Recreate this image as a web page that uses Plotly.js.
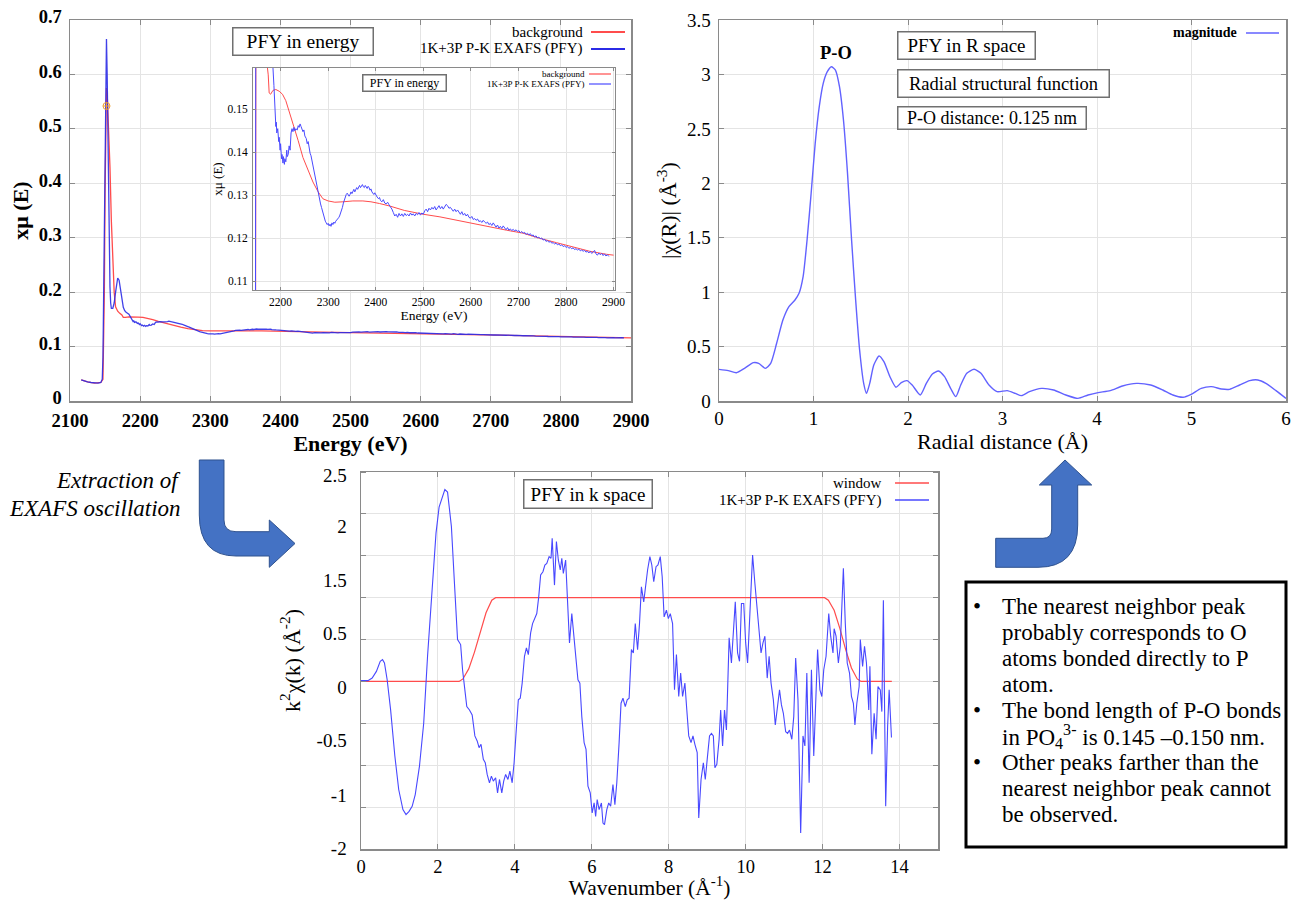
<!DOCTYPE html>
<html><head><meta charset="utf-8">
<script src="https://cdn.plot.ly/plotly-3.0.1.min.js"></script>
<style>html,body{margin:0;padding:0;background:#fff}#chart{width:1293px;height:900px}</style>
</head><body><div id="chart"></div>
<script>
// ---------------- DATA ----------------
// Energy space (eV) – measured PFY spectrum
const dataE = [2116,2120,2125,2130,2135,2140,2144,2146,2147,2148,2149,2150,2151,2152,2153,2154,2155,2156,2157,2158,2159,2161,2163,2165,2167,2168,2170,2172,2174,2176,2178,2180,2184,2186,2187,2188,2189,2190,2191,2192,2194,2196,2197,2199,2200,2202,2203,2205,2206,2208,2209,2211,2213,2214,2216,2218,2220,2222,2224,2226,2228,2230,2232,2235,2237,2239,2241,2243,2245,2247,2249,2251,2254,2256,2258,2260,2262,2264,2266,2268,2270,2272,2274,2276,2278,2280,2282,2284,2286,2288,2290,2292,2294,2296,2298,2300,2302,2304,2306,2308,2310,2312,2314,2316,2318,2320,2322,2324,2326,2328,2330,2332,2334,2336,2338,2340,2342,2344,2346,2348,2350,2352,2354,2356,2358,2360,2362,2364,2366,2368,2370,2372,2374,2376,2378,2380,2382,2384,2386,2388,2390,2392,2394,2396,2398,2400,2403,2406,2408,2410,2413,2416,2419,2422,2425,2428,2431,2434,2437,2440,2443,2446,2449,2452,2455,2458,2461,2464,2467,2470,2473,2476,2479,2482,2485,2488,2491,2494,2497,2500,2503,2506,2509,2512,2515,2518,2521,2524,2527,2530,2533,2536,2539,2542,2545,2548,2551,2554,2557,2560,2563,2566,2569,2572,2575,2578,2581,2584,2587,2590,2593,2596,2599,2602,2605,2608,2611,2614,2617,2620,2623,2626,2629,2632,2635,2638,2641,2644,2647,2650,2653,2656,2659,2662,2665,2668,2671,2674,2677,2680,2683,2686,2689,2692,2695,2698,2701,2704,2707,2710,2713,2716,2719,2722,2725,2728,2731,2734,2737,2740,2743,2746,2749,2752,2755,2758,2761,2764,2767,2770,2773,2776,2779,2782,2785,2788,2791,2794,2797,2800,2803,2806,2809,2812,2815,2818,2821,2824,2827,2830,2833,2836,2839,2842,2845,2848,2851,2854,2857,2860,2863,2866,2869,2872,2875,2878,2881,2884,2887,2890];
const dataMu = [0.039,0.037,0.035,0.034,0.033,0.033,0.034,0.040,0.080,0.200,0.380,0.550,0.640,0.665,0.600,0.480,0.360,0.270,0.210,0.180,0.170,0.170,0.180,0.200,0.218,0.226,0.222,0.205,0.188,0.172,0.166,0.163,0.1596,0.1555,0.152,0.149,0.1495,0.146,0.147,0.1445,0.1455,0.1425,0.1435,0.1405,0.142,0.1385,0.1395,0.1375,0.139,0.1372,0.1385,0.1378,0.1405,0.139,0.1395,0.1415,0.1405,0.1445,0.1455,0.1448,0.1458,0.145,0.1455,0.1452,0.1462,0.1458,0.1466,0.146,0.1455,0.1448,0.1452,0.1438,0.1432,0.142,0.1425,0.141,0.1398,0.1392,0.138,0.1368,0.1358,0.1345,0.1335,0.132,0.131,0.130,0.129,0.128,0.1272,0.1262,0.1255,0.1245,0.124,0.1236,0.1232,0.1235,0.1229,0.1233,0.1228,0.1236,0.1232,0.1238,0.1235,0.124,0.1242,0.1245,0.1248,0.1252,0.1258,0.1265,0.1272,0.1282,0.129,0.1298,0.1302,0.1305,0.1302,0.1298,0.1302,0.1308,0.1304,0.131,0.1314,0.1308,0.1315,0.1318,0.1314,0.132,0.1323,0.1318,0.1322,0.1325,0.132,0.1318,0.1323,0.132,0.1316,0.1321,0.1318,0.1312,0.1315,0.1308,0.1305,0.1302,0.1306,0.130,0.1296,0.1292,0.1295,0.1288,0.1285,0.129,0.1282,0.128,0.1284,0.1278,0.1274,0.1268,0.126,0.1252,0.1256,0.1249,0.1258,0.1252,0.1257,0.1251,0.1258,0.1253,0.1256,0.1252,0.1259,0.1254,0.1257,0.1252,0.1258,0.1255,0.126,0.1254,0.1259,0.1256,0.1264,0.1268,0.1262,0.127,0.1266,0.1272,0.1268,0.1274,0.1266,0.1271,0.1276,0.1269,0.1274,0.1268,0.1275,0.1279,0.1276,0.127,0.1272,0.1266,0.1263,0.1268,0.1262,0.1266,0.126,0.1256,0.1262,0.1254,0.1258,0.1252,0.1256,0.1249,0.1247,0.1251,0.1244,0.1246,0.1242,0.1245,0.1239,0.1241,0.1237,0.1242,0.1238,0.1235,0.1238,0.1232,0.1235,0.123,0.1236,0.1229,0.1226,0.1231,0.1224,0.1228,0.1223,0.1229,0.1225,0.122,0.1225,0.1219,0.1222,0.1218,0.1221,0.1217,0.122,0.1216,0.1218,0.1213,0.1216,0.1212,0.1214,0.1209,0.1212,0.1208,0.1211,0.1206,0.1208,0.1203,0.1206,0.1201,0.1203,0.1199,0.1201,0.1196,0.1198,0.1193,0.1195,0.1191,0.1193,0.1189,0.119,0.1187,0.1189,0.1185,0.1187,0.1183,0.1185,0.1181,0.1183,0.1179,0.1181,0.1177,0.1179,0.1176,0.1178,0.1174,0.1176,0.1173,0.1175,0.1171,0.1173,0.117,0.1172,0.1168,0.117,0.1166,0.117,0.1165,0.1168,0.1172,0.1164,0.1161,0.1166,0.1162,0.1165,0.116,0.1164,0.1159,0.1162,0.1158];
// Background (spline) in energy space
const bgE = [2116,2125,2135,2144,2147,2149,2150,2151,2152,2153,2155,2157,2159,2161,2163,2165,2168,2171,2174,2176,2179,2184,2190,2197,2204,2211,2218,2226,2237,2247,2258,2268,2279,2289,2300,2314,2331,2352,2373,2390,2408,2430,2460,2500,2535,2570,2605,2640,2675,2710,2745,2780,2815,2850,2885,2900];
const bgMu = [0.039,0.035,0.033,0.034,0.040,0.200,0.380,0.520,0.575,0.565,0.500,0.430,0.330,0.247,0.200,0.173,0.165,0.161,0.158,0.1538,0.1535,0.1544,0.1546,0.1542,0.1535,0.152,0.1496,0.1465,0.1427,0.1388,0.1358,0.1331,0.1308,0.1292,0.1287,0.1284,0.1285,0.1287,0.1287,0.1285,0.1281,0.1275,0.1265,0.1256,0.125,0.1242,0.1235,0.1227,0.1219,0.1212,0.120,0.119,0.118,0.117,0.1163,0.1161];
// E0 marker
const e0E = [2152];
const e0Mu = [0.542];

// R space
const rR = [0,0.098,0.184,0.27,0.364,0.42,0.49,0.547,0.61,0.676,0.74,0.804,0.847,0.89,0.932,0.975,1.018,1.061,1.103,1.146,1.189,1.232,1.275,1.317,1.36,1.403,1.446,1.488,1.531,1.561,1.595,1.638,1.694,1.745,1.809,1.873,1.929,1.989,2.044,2.13,2.194,2.258,2.323,2.387,2.451,2.506,2.558,2.622,2.699,2.772,2.857,2.943,3.05,3.135,3.2,3.285,3.413,3.541,3.67,3.798,3.905,4.012,4.14,4.269,4.418,4.568,4.696,4.803,4.91,4.996,5.103,5.21,5.317,5.402,5.509,5.616,5.702,5.787,5.894,6.0];
const magR = [0.291,0.279,0.26,0.3,0.352,0.346,0.3,0.346,0.53,0.744,0.867,0.928,0.989,1.142,1.479,1.908,2.367,2.704,2.918,3.025,3.071,3.04,2.887,2.581,2.091,1.479,0.928,0.468,0.162,0.07,0.162,0.33,0.413,0.361,0.223,0.126,0.168,0.187,0.147,0.055,0.162,0.248,0.276,0.224,0.116,0.04,0.147,0.254,0.291,0.254,0.147,0.086,0.095,0.07,0.049,0.086,0.116,0.101,0.055,0.024,0.055,0.077,0.095,0.138,0.162,0.147,0.101,0.055,0.034,0.061,0.116,0.132,0.11,0.107,0.147,0.187,0.193,0.162,0.095,0.024];

// k space
const kWin = [0,2.55,2.65,2.8,2.95,3.1,3.25,3.4,3.5,12.05,12.15,12.3,12.45,12.6,12.75,12.9,13.0,13.8];
const winVal = [0,0,0.03,0.15,0.35,0.6,0.82,0.97,1.0,1.0,0.97,0.85,0.63,0.38,0.16,0.03,0,0];
const kData = [0,0.18,0.29,0.4,0.5,0.56,0.61,0.68,0.77,0.88,0.98,1.09,1.17,1.25,1.33,1.41,1.52,1.63,1.73,1.84,1.95,2.03,2.11,2.18,2.25,2.29,2.35,2.43,2.51,2.59,2.64,2.7,2.75,2.82,2.89,2.96,3.02,3.07,3.12,3.18,3.23,3.28,3.34,3.39,3.44,3.5,3.55,3.6,3.66,3.71,3.76,3.82,3.87,3.93,3.98,4.03,4.09,4.14,4.19,4.25,4.3,4.35,4.41,4.46,4.51,4.57,4.62,4.67,4.73,4.78,4.83,4.89,4.94,4.97,5.03,5.08,5.13,5.18,5.22,5.26,5.32,5.37,5.42,5.48,5.53,5.58,5.64,5.69,5.74,5.8,5.85,5.9,5.96,6.01,6.06,6.1,6.14,6.19,6.25,6.29,6.33,6.39,6.44,6.49,6.55,6.6,6.65,6.71,6.76,6.81,6.87,6.92,6.97,7.03,7.08,7.13,7.19,7.24,7.29,7.35,7.4,7.45,7.51,7.56,7.61,7.67,7.72,7.78,7.83,7.88,7.94,7.99,8.04,8.1,8.15,8.2,8.26,8.31,8.36,8.42,8.47,8.52,8.58,8.63,8.68,8.74,8.78,8.84,8.9,8.95,9.0,9.06,9.11,9.16,9.2,9.25,9.31,9.35,9.4,9.45,9.5,9.57,9.63,9.68,9.73,9.79,9.84,9.89,9.95,10.0,10.05,10.11,10.18,10.24,10.29,10.34,10.4,10.45,10.5,10.56,10.61,10.66,10.72,10.77,10.82,10.88,10.93,10.98,11.04,11.09,11.14,11.2,11.25,11.3,11.36,11.43,11.49,11.54,11.59,11.65,11.71,11.77,11.82,11.87,11.93,11.98,12.03,12.09,12.16,12.21,12.27,12.3,12.35,12.41,12.46,12.51,12.54,12.59,12.64,12.7,12.75,12.8,12.84,12.89,12.95,12.98,13.04,13.09,13.14,13.2,13.23,13.28,13.34,13.39,13.44,13.5,13.54,13.58,13.64,13.69,13.73,13.79];
const k2chi = [0.01,0.01,0.04,0.12,0.24,0.26,0.22,0.02,-0.34,-0.89,-1.29,-1.53,-1.59,-1.55,-1.49,-1.35,-1.01,-0.5,0.3,1.09,1.77,2.08,2.2,2.29,2.26,2.08,1.85,1.17,0.5,0.44,0.14,-0.1,-0.3,-0.34,-0.4,-0.65,-0.71,-0.79,-0.75,-0.93,-0.97,-1.11,-1.21,-1.13,-1.19,-1.15,-1.33,-1.17,-1.33,-1.19,-1.11,-1.17,-1.07,-1.21,-0.97,-0.62,-0.22,-0.2,-0.02,0.3,0.4,0.32,0.58,0.69,0.75,0.81,1.01,1.27,1.31,1.39,1.41,1.49,1.47,1.71,1.15,1.67,1.45,1.33,1.47,1.29,1.45,1.01,0.46,0.81,0.54,0.3,0.02,-0.02,-0.42,-0.73,-0.81,-1.25,-1.33,-1.57,-1.45,-1.61,-1.41,-1.53,-1.45,-1.69,-1.71,-1.53,-1.45,-1.49,-1.23,-1.47,-1.21,-0.73,-0.26,-0.2,-0.3,-0.22,-0.2,0.38,0.34,0.69,0.38,0.69,1.13,0.95,1.17,1.33,1.49,1.39,1.19,1.37,1.39,1.49,1.25,0.77,0.85,0.75,0.81,0.69,-0.1,0.32,-0.18,0.1,-0.18,-0.02,-0.34,-0.65,-0.73,-0.65,-0.75,-0.85,-1.63,-1.17,-0.97,-1.17,-0.93,-0.65,-0.62,-0.65,-1.03,-0.99,-0.69,-0.34,-0.77,-0.34,-0.58,0.52,0.22,0.54,0.95,0.34,0.24,0.93,0.93,0.46,0.22,0.81,1.51,1.17,0.89,0.69,0.34,0.46,0.54,0.04,0.3,-0.02,-0.22,-0.52,-0.3,-0.1,-0.28,-0.38,-0.6,-0.62,-0.58,-0.69,-0.42,0.28,-0.22,-1.81,-0.65,-0.77,0.1,-1.21,0.14,-0.89,-0.26,0.38,-0.1,-0.18,0.14,0.3,0.81,0.54,0.34,0.63,0.54,0.22,0.42,0.93,1.35,0.69,0.22,0.1,-0.18,-0.26,-0.52,-0.26,-0.06,0.5,0.18,0.42,0.22,-0.34,0.18,-0.87,-0.38,-0.69,-0.06,-0.1,-0.36,0.97,-1.49,-0.54,-0.1,-0.67];
// Tick labels of the k-space y axis as printed (they sit off the grid lines in the original)
const kYTickText = ['2.5','2','1.5','0.5','0','-0.5','-1','-2'];
const kYTickAt = [2.46,1.85,1.21,0.58,-0.07,-0.7,-1.36,-1.99];

// Texts
const noteLines = [
  'The nearest neighbor peak',
  'probably corresponds to O',
  'atoms bonded directly to P',
  'atom.',
  'The bond length of P-O bonds',
  'in PO<sub>4</sub><sup>3-</sup> is 0.145 \u20130.150 nm.',
  'Other peaks farther than the',
  'nearest neighbor peak cannot',
  'be observed.'
];
const bulletLines = [0, 4, 6];

// ---------------- LAYOUT HELPERS ----------------
const W = 1293, H = 900;
const FONT = 'Liberation Serif, Times New Roman, serif';
const px = x => x / W;
const py = y => 1 - y / H;
const BLUE = '#4472C4', BLUE_EDGE = '#2F528F';
const GRID = '#e4e4e4', FRAME = '#8a8a8a';

function axis(extra) {
  return Object.assign({
    showline: true, linecolor: FRAME, linewidth: 1.5, mirror: 'ticks',
    ticks: 'inside', ticklen: 5, tickwidth: 1, tickcolor: FRAME,
    showgrid: true, gridcolor: GRID, gridwidth: 1, zeroline: false,
    automargin: false, fixedrange: true, ticklabelstandoff: 3
  }, extra);
}
function pathPx(cmds) {
  return cmds.map(c => {
    const op = c[0];
    const pts = [];
    for (let i = 1; i < c.length; i += 2) pts.push(px(c[i]).toFixed(5) + ',' + py(c[i + 1]).toFixed(5));
    return op + pts.join(' ');
  }).join(' ') + ' Z';
}
function textAt(text, x, y, size, opts) {
  return Object.assign({
    text: text, x: px(x), y: py(y), xref: 'paper', yref: 'paper', showarrow: false,
    xanchor: 'center', yanchor: 'middle', font: {family: FONT, size: size, color: '#000'}
  }, opts || {});
}
function boxAt(text, x, y, w, h, size) {
  return textAt(text, x, y, size, {bordercolor: '#707070', borderwidth: 1.5, borderpad: 0, bgcolor: '#fff', width: w, height: h});
}
function lineSeg(x0, x1, y, color, wdt) {
  return {type: 'line', xref: 'paper', yref: 'paper', x0: px(x0), x1: px(x1), y0: py(y), y1: py(y), line: {color: color, width: wdt}};
}

// ---------------- TRACES ----------------
const RED = '#ff4c4c';
const traces = [
  {x: bgE, y: bgMu, xaxis: 'x', yaxis: 'y', mode: 'lines', line: {color: RED, width: 1.3}, name: 'background'},
  {x: dataE, y: dataMu, xaxis: 'x', yaxis: 'y', mode: 'lines', line: {color: '#2b2be6', width: 1.3}, opacity: 0.9, name: '1K+3P P-K EXAFS (PFY)'},
  {x: e0E, y: e0Mu, xaxis: 'x', yaxis: 'y', mode: 'markers', marker: {symbol: 'circle-cross-open', size: 7, color: '#f0a030', line: {width: 1}}, name: 'E0'},
  {x: rR, y: magR, xaxis: 'x2', yaxis: 'y2', mode: 'lines', line: {color: '#6262ff', width: 1.4, shape: 'spline', smoothing: 0.6}, name: 'magnitude'},
  {x: kWin, y: winVal, xaxis: 'x3', yaxis: 'y3', mode: 'lines', line: {color: RED, width: 1.2}, name: 'window'},
  {x: kData, y: k2chi, xaxis: 'x3', yaxis: 'y3', mode: 'lines', line: {color: '#4848ff', width: 1.1}, name: '1K+3P P-K EXAFS (PFY)'},
  {x: bgE, y: bgMu, xaxis: 'x4', yaxis: 'y4', mode: 'lines', line: {color: RED, width: 1}, name: 'background'},
  {x: dataE, y: dataMu, xaxis: 'x4', yaxis: 'y4', mode: 'lines', line: {color: '#4a4aff', width: 1}, name: '1K+3P P-K EXAFS (PFY)'}
];

// ---------------- LAYOUT ----------------
const tickBold = {family: FONT, size: 18.5, color: '#000', weight: 'bold'};
const tickReg = {family: FONT, size: 19, color: '#000'};
const layout = {
  width: W, height: H, margin: {l: 0, r: 0, t: 0, b: 0},
  paper_bgcolor: '#fff', plot_bgcolor: '#fff', showlegend: false, hovermode: false,
  font: {family: FONT, color: '#000'},
  xaxis: axis({domain: [px(70), px(631)], range: [2100, 2900], dtick: 100, anchor: 'y', tickfont: tickBold, ticklabelstandoff: 2,
    title: {text: 'Energy (eV)', font: {family: FONT, size: 22, weight: 'bold', color: '#000'}, standoff: 0}}),
  yaxis: axis({domain: [py(401), py(20)], range: [0, 0.7], dtick: 0.1, anchor: 'x', tickfont: tickBold, ticklabelshift: -3,
    title: {text: 'x\u03bc (E)', font: {family: FONT, size: 22, weight: 'bold', color: '#000'}, standoff: 4}}),
  xaxis2: axis({domain: [px(719), px(1286)], range: [0, 6], dtick: 1, anchor: 'y2', tickfont: tickReg, ticklabelstandoff: 0,
    title: {text: 'Radial distance (\u00c5)', font: {family: FONT, size: 22, color: '#000'}, standoff: 0}}),
  yaxis2: axis({domain: [py(401), py(20)], range: [0, 3.5], dtick: 0.5, anchor: 'x2', tickfont: tickReg,
    title: {text: '|\u03c7(R)| (\u00c5<sup>-3</sup>)', font: {family: FONT, size: 22, color: '#000'}, standoff: 4}}),
  xaxis3: axis({domain: [px(361), px(938)], range: [0, 15], dtick: 2, anchor: 'y3', tickfont: {family: FONT, size: 18.5, color: '#000'}, ticklabelstandoff: 0,
    title: {text: 'Wavenumber (\u00c5<sup>-1</sup>)', font: {family: FONT, size: 21.5, color: '#000'}, standoff: 8}}),
  // y tick labels sit where the original prints them; grid lines every 0.5 via minor ticks
  yaxis3: axis({domain: [py(849), py(472)], range: [-2, 2.5], anchor: 'x3',
    tickmode: 'array', tickvals: kYTickAt, ticktext: kYTickText, showgrid: false, ticks: '', ticklabelstandoff: 9,
    tickfont: tickReg,
    minor: {tickmode: 'linear', tick0: -2, dtick: 0.5, showgrid: true, gridcolor: GRID, gridwidth: 1, ticks: 'inside', ticklen: 5, tickcolor: FRAME},
    title: {text: 'k<sup>2</sup>\u03c7(k) (\u00c5<sup>-2</sup>)', font: {family: FONT, size: 22, color: '#000'}, standoff: 10}}),
  xaxis4: axis({domain: [px(253), px(615)], range: [2142, 2903], dtick: 100, anchor: 'y4', linewidth: 1, ticklen: 3,
    tickfont: {family: FONT, size: 11.5, color: '#000'}, ticklabelstandoff: 1,
    title: {text: 'Energy (eV)', font: {family: FONT, size: 13.5, color: '#000'}, standoff: 0}}),
  yaxis4: axis({domain: [py(290), py(68)], range: [0.108, 0.1596], dtick: 0.01, anchor: 'x4', linewidth: 1, ticklen: 3,
    tickfont: {family: FONT, size: 11.5, color: '#000'}, ticklabelstandoff: 2,
    title: {text: 'x\u03bc (E)', font: {family: FONT, size: 13, color: '#000'}, standoff: 2}}),
  shapes: [], annotations: []
};

// white backing for inset (hides main grid under the inset and its labels)
layout.shapes.push({type: 'rect', xref: 'x', yref: 'y', layer: 'below',
  x0: 2100 + (212 - 70) / 561 * 800, x1: 2900, y0: (401 - 322) / 544.3, y1: (401 - 64) / 544.3,
  fillcolor: '#fff', line: {width: 0}});

// legends (text on left, sample line on right)
layout.annotations.push(textAt('background', 585, 32, 15, {xanchor: 'right'}));
layout.annotations.push(textAt('1K+3P P-K EXAFS (PFY)', 585, 49, 15, {xanchor: 'right'}));
layout.shapes.push(lineSeg(591, 625, 32, RED, 1.8));
layout.shapes.push(lineSeg(591, 625, 49, '#2b2be6', 1.8));

layout.annotations.push(textAt('background', 587, 74, 9, {xanchor: 'right'}));
layout.annotations.push(textAt('1K+3P P-K EXAFS (PFY)', 587, 84, 9, {xanchor: 'right'}));
layout.shapes.push(lineSeg(589, 611, 74, RED, 1.2));
layout.shapes.push(lineSeg(589, 611, 84, '#4a4aff', 1.2));

layout.annotations.push(textAt('magnitude', 1239, 33, 14, {xanchor: 'right', font: {family: FONT, size: 14, color: '#000', weight: 'bold'}}));
layout.shapes.push(lineSeg(1246, 1279, 33, '#6262ff', 1.6));

layout.annotations.push(textAt('window', 884, 483, 15, {xanchor: 'right'}));
layout.annotations.push(textAt('1K+3P P-K EXAFS (PFY)', 884, 500, 15, {xanchor: 'right'}));
layout.shapes.push(lineSeg(895, 929, 483, RED, 1.6));
layout.shapes.push(lineSeg(895, 929, 500, '#4848ff', 1.6));

// boxed titles
layout.annotations.push(boxAt('PFY in energy', 303, 41.5, 139, 26, 19.5));
layout.annotations.push(boxAt('PFY in energy', 404.7, 82.5, 82, 15, 12));
layout.annotations.push(boxAt('PFY in R space', 966.5, 45.5, 136, 26, 19));
layout.annotations.push(boxAt('Radial structural function', 1003.5, 83.5, 210, 26, 18.5));
layout.annotations.push(boxAt('P-O distance: 0.125 nm', 992, 118.5, 187, 21, 18));
layout.annotations.push(boxAt('PFY in k space', 588, 494, 127, 27, 19));
layout.annotations.push(textAt('P-O', 836, 53, 18, {font: {family: FONT, size: 18.5, color: '#000', weight: 'bold'}}));

// process text
layout.annotations.push(textAt('Extraction of', 183, 480, 23, {xanchor: 'right', font: {family: FONT, size: 23, color: '#000', style: 'italic'}}));
layout.annotations.push(textAt('EXAFS oscillation', 183, 508, 23, {xanchor: 'right', font: {family: FONT, size: 23, color: '#000', style: 'italic'}}));

// note box
layout.shapes.push({type: 'rect', xref: 'paper', yref: 'paper', x0: px(966), x1: px(1286), y0: py(847), y1: py(582),
  line: {color: '#000', width: 3}, fillcolor: 'rgba(0,0,0,0)'});
noteLines.forEach((t, i) => {
  const y = 606 + i * 26.1;
  layout.annotations.push(textAt(t, 1000, y, 23, {xanchor: 'left'}));
  if (bulletLines.indexOf(i) >= 0) layout.annotations.push(textAt('\u2022', 977, y, 23));
});

// bent arrows
layout.shapes.push({type: 'path', xref: 'paper', yref: 'paper', fillcolor: BLUE, line: {color: BLUE_EDGE, width: 1},
  path: pathPx([['M', 199.3, 460], ['L', 224, 460], ['L', 224, 520], ['Q', 224, 531.7, 236, 531.7], ['L', 269.3, 531.7],
    ['L', 269.3, 520], ['L', 295, 543.5], ['L', 269.3, 567.3], ['L', 269.3, 556], ['L', 236, 556], ['Q', 199.3, 556, 199.3, 515]])});
layout.shapes.push({type: 'path', xref: 'paper', yref: 'paper', fillcolor: BLUE, line: {color: BLUE_EDGE, width: 1},
  path: pathPx([['M', 995.7, 538.3], ['L', 1043, 538.3], ['Q', 1051.7, 538.3, 1051.7, 529], ['L', 1051.7, 485], ['L', 1039.3, 485],
    ['L', 1065, 460], ['L', 1091.7, 485], ['L', 1077.7, 485], ['L', 1077.7, 525], ['Q', 1077.7, 567.3, 1038, 567.3], ['L', 995.7, 567.3]])});

Plotly.newPlot('chart', traces, layout, {staticPlot: true, displayModeBar: false});
</script>
</body></html>
